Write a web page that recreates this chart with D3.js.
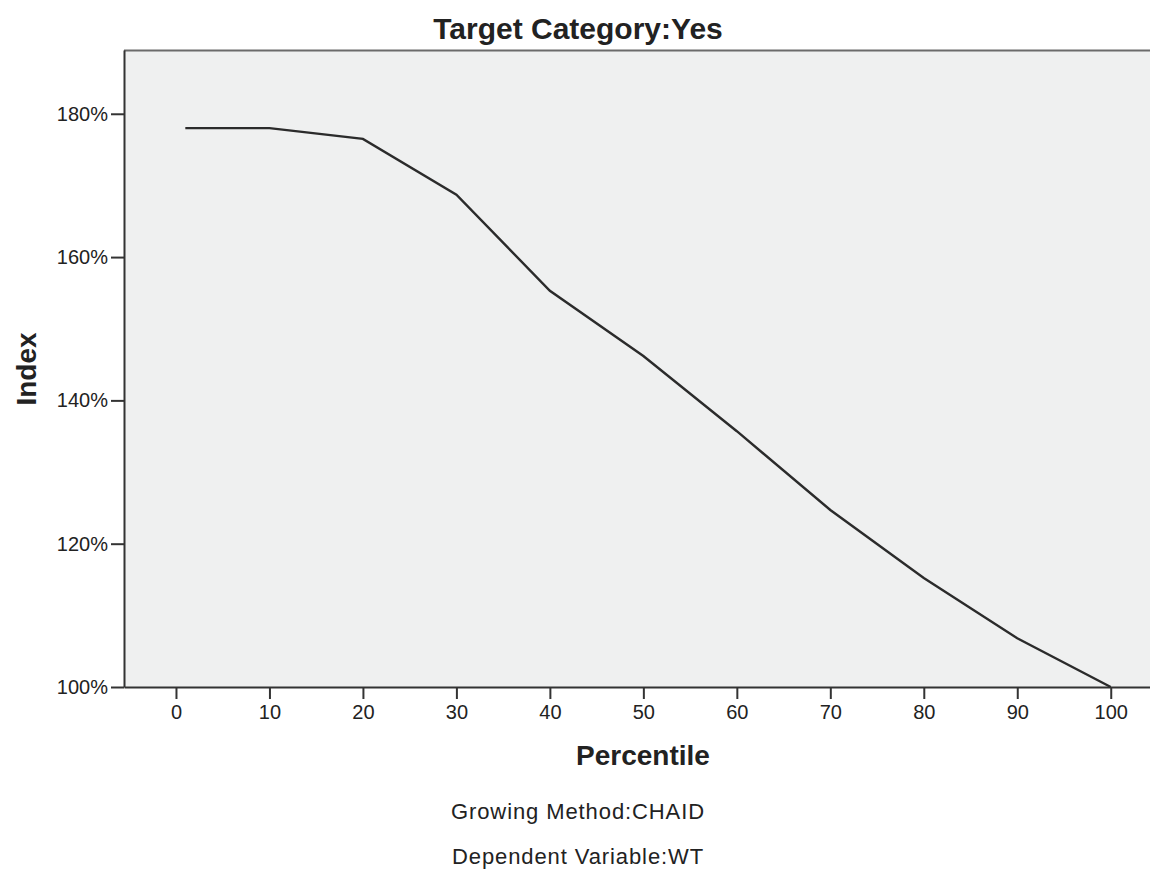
<!DOCTYPE html>
<html>
<head>
<meta charset="utf-8">
<script src="https://cdn.jsdelivr.net/npm/d3@7"></script>
<style>
  body { margin: 0; background: #fff; }
  svg { display: block; font-family: "Liberation Sans", Arial, sans-serif; }
</style>
</head>
<body>
<script>
// percentile positions and index values (in %)
var percentiles = [1, 10, 20, 30, 40, 50, 60, 70, 80, 90, 100];
var indexValues = [178.0, 178.0, 176.5, 168.7, 155.3, 146.2, 135.7, 124.7, 115.2, 106.8, 100.0];
var xTicks = [0, 10, 20, 30, 40, 50, 60, 70, 80, 90, 100];
var yTicks = [100, 120, 140, 160, 180];

var width = 1150, height = 870;
var margin = {top: 50, right: 0, bottom: 183, left: 124};

var svg = d3.select("body").append("svg")
    .attr("width", width)
    .attr("height", height);

var x = d3.scaleLinear()
    .domain([-5.56, 104.2])
    .range([margin.left, width - margin.right]);

var y = d3.scaleLinear()
    .domain([100, 188.9])
    .range([height - margin.bottom, margin.top]);

// plot background
svg.append("rect")
    .attr("x", margin.left)
    .attr("y", margin.top)
    .attr("width", width - margin.left - margin.right)
    .attr("height", height - margin.top - margin.bottom)
    .attr("fill", "#eff0f0");

// top border
svg.append("line")
    .attr("x1", margin.left).attr("x2", width)
    .attr("y1", margin.top + 0.5).attr("y2", margin.top + 0.5)
    .attr("stroke", "#6b6b6b")
    .attr("stroke-width", 2);

// x axis
var xAxis = svg.append("g")
    .attr("transform", `translate(0,${height - margin.bottom})`)
    .call(d3.axisBottom(x).tickValues(xTicks).tickSize(12).tickPadding(6).tickSizeOuter(0));
xAxis.select(".domain").attr("stroke", "#333").attr("stroke-width", 2);
xAxis.selectAll(".tick line").attr("stroke", "#333").attr("stroke-width", 2);
xAxis.selectAll("text").attr("font-size", 20).attr("fill", "#222")
    .attr("font-family", "'Liberation Sans', Arial, sans-serif");

// y axis
var yAxis = svg.append("g")
    .attr("transform", `translate(${margin.left},0)`)
    .call(d3.axisLeft(y).tickValues(yTicks).tickSize(13).tickPadding(3)
        .tickFormat(d => d + "%").tickSizeOuter(0));
yAxis.select(".domain").attr("stroke", "#333").attr("stroke-width", 2);
yAxis.selectAll(".tick line").attr("stroke", "#333").attr("stroke-width", 2);
yAxis.selectAll("text").attr("font-size", 20).attr("fill", "#222")
    .attr("font-family", "'Liberation Sans', Arial, sans-serif");

// the line
var line = d3.line()
    .x((d, i) => x(percentiles[i]))
    .y(d => y(d));

svg.append("path")
    .datum(indexValues)
    .attr("fill", "none")
    .attr("stroke", "#2b2b2b")
    .attr("stroke-width", 2.4)
    .attr("d", line);

// title
svg.append("text")
    .attr("x", 578).attr("y", 39)
    .attr("text-anchor", "middle")
    .attr("font-size", 30).attr("font-weight", "bold").attr("fill", "#222")
    .text("Target Category:Yes");

// axis titles
svg.append("text")
    .attr("x", 643).attr("y", 765)
    .attr("text-anchor", "middle")
    .attr("font-size", 28).attr("font-weight", "bold").attr("fill", "#222")
    .text("Percentile");

svg.append("text")
    .attr("transform", "translate(36,369) rotate(-90)")
    .attr("text-anchor", "middle")
    .attr("font-size", 28).attr("font-weight", "bold").attr("fill", "#222")
    .text("Index");

// footnotes
svg.append("text")
    .attr("x", 578).attr("y", 819)
    .attr("text-anchor", "middle")
    .attr("font-size", 22).attr("letter-spacing", 0.9).attr("fill", "#222")
    .text("Growing Method:CHAID");

svg.append("text")
    .attr("x", 578).attr("y", 864)
    .attr("text-anchor", "middle")
    .attr("font-size", 22).attr("letter-spacing", 0.9).attr("fill", "#222")
    .text("Dependent Variable:WT");
</script>
</body>
</html>
